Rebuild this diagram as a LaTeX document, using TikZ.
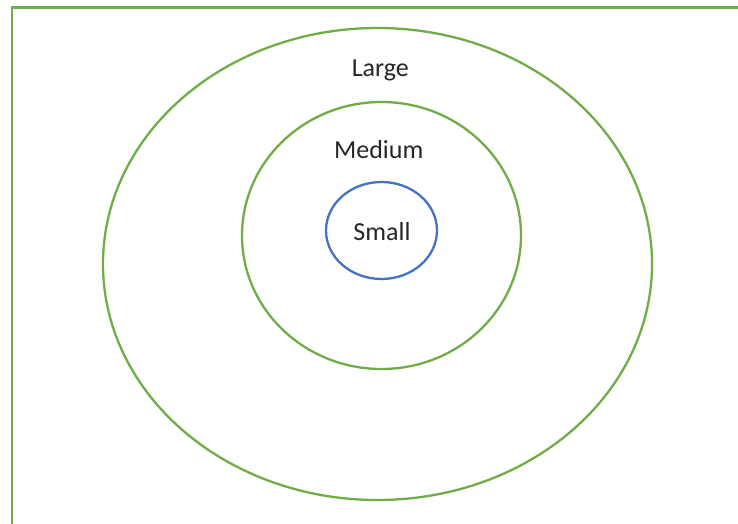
\documentclass[tikz,border=0pt]{standalone}
\usepackage{fontspec}
\setmainfont{Carlito}
\definecolor{xlgreen}{HTML}{70AD47}
\definecolor{xlblue}{HTML}{4472C4}
\begin{document}
\begin{tikzpicture}[x=1pt,y=-1pt,
  ring/.style={draw=xlgreen,line width=2.3pt},
  lbl/.style={anchor=base,inner sep=0pt,font=\fontsize{26}{30}\selectfont,text=black!85}]
\useasboundingbox (0,0) rectangle (738,524);
\fill[white] (0,0) rectangle (738,524);
\draw[xlgreen,line width=2.8pt] (12,530) -- (12,7.3) -- (745,7.3);
\draw[ring] (377.5,264) ellipse [x radius=274.5, y radius=236];
\draw[ring] (381.5,235.5) ellipse [x radius=139.5, y radius=133.5];
\draw[draw=xlblue,line width=2.3pt] (381.5,230.5) ellipse [x radius=55.5, y radius=48.5];
\node[lbl] (large) at (380.3,76.5) {Large};
\node[lbl] (medium) at (378.7,158.8) {Medium};
\node[lbl] (small) at (382,240.7) {Small};
\end{tikzpicture}
\end{document}
